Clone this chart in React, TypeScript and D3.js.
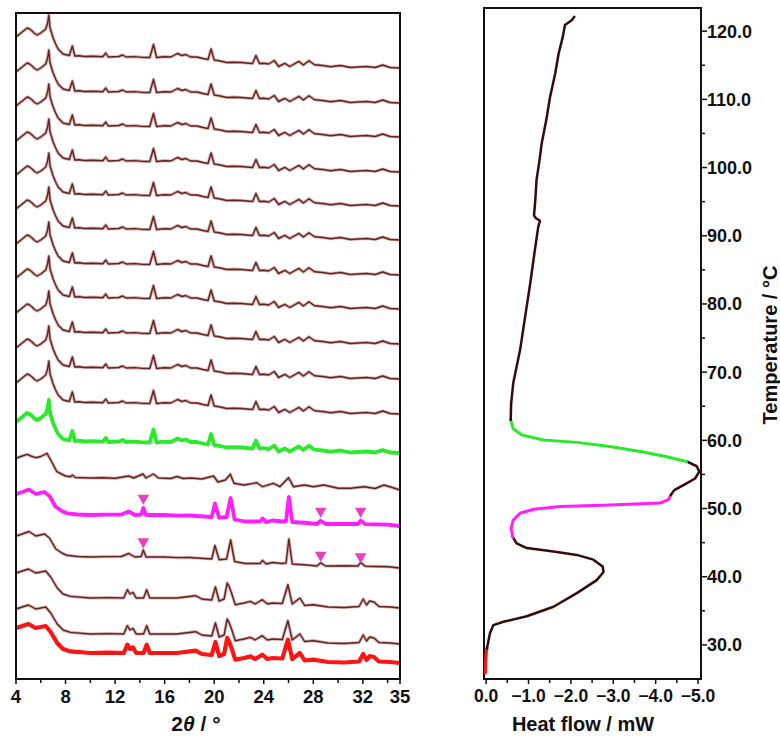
import React from 'react';
import * as d3 from 'd3';

// XRD patterns: [2theta, height above the trace's right-end baseline]
const PATTERN_A: [number, number][] = [
  [4.0, 31], [4.3, 34], [4.5, 36], [4.9, 40], [5.1, 39], [5.3, 37], [5.5, 34.5], [5.7, 33], [6.0, 35],
  [6.2, 37], [6.4, 39], [6.55, 45], [6.65, 53], [6.75, 40], [7.0, 30], [7.2, 24], [7.4, 19], [7.8, 14],
  [8.3, 12.5], [8.55, 22], [8.75, 12], [9.1, 12.3], [9.5, 11.5], [10.2, 11.8], [11.0, 11.3], [11.25, 15],
  [11.45, 11], [12.3, 11.5], [12.6, 13], [12.9, 11], [13.6, 11.4], [14.2, 10.6], [14.8, 10.5], [15.1, 23.5],
  [15.35, 10.5], [16.0, 11.3], [16.5, 11], [17.05, 14.5], [17.4, 12.5], [17.7, 13.5], [18.1, 11],
  [18.6, 11], [19.1, 9.5], [19.5, 8.5], [19.75, 19], [20.0, 8], [20.5, 7], [21.0, 5.5], [21.6, 5.8],
  [22.2, 5.5], [22.6, 5], [23.1, 4.5], [23.37, 12.5], [23.65, 4.5], [24.0, 4.8], [24.4, 4], [24.85, 7.5],
  [25.2, 1.5], [25.7, 4.6], [26.1, 1.5], [26.84, 6.6], [27.2, 3], [27.65, 7.3], [28.1, 3.3], [28.75, 2.5],
  [29.4, 1.3], [30.2, 2.5], [31.0, 0.5], [31.6, 1], [32.3, 1.5], [33.0, 0.5], [33.6, 3], [34.2, 0.5],
  [35.0, 0]
];

const PATTERN_B: [number, number][] = [
  [4.0, 31.7], [4.5, 34], [4.9, 35.7], [5.2, 34], [5.6, 32.3], [6.0, 33.5], [6.5, 36.7], [6.8, 30],
  [7.3, 18.3], [8.0, 14], [8.4, 13.3], [8.55, 15], [8.8, 12.5], [10.0, 12], [11.0, 12.3], [12.0, 11.7],
  [13.1, 14], [13.5, 12], [14.25, 16], [14.5, 12], [15.1, 16], [15.5, 12], [16.5, 11.5], [17.0, 13.5],
  [17.5, 11.5], [18.1, 12], [19.0, 11], [19.95, 14], [20.3, 8], [20.9, 10], [21.3, 15.7], [21.6, 6.7],
  [22.4, 5], [23.45, 7.3], [23.9, 3.3], [24.8, 6.7], [25.3, 3.3], [26.0, 12.3], [26.4, 3.3], [27.3, 5],
  [28.0, 3.3], [28.86, 5], [30.0, 1.7], [31.0, 1.7], [32.1, 3.3], [33.0, 1.5], [33.7, 5], [34.5, 2],
  [35.0, 0]
];

const PATTERN_C: [number, number][] = [
  [4.0, 32], [4.5, 34], [5.05, 36.5], [5.6, 32], [6.3, 34], [6.7, 30], [7.2, 19.3], [7.7, 15], [8.1, 12.7],
  [9.0, 11.5], [10.0, 11], [11.2, 11.4], [12.5, 11.5], [13.1, 14.5], [13.6, 11], [14.1, 11.5], [14.28, 18],
  [14.5, 11], [16.0, 11], [17.0, 10.4], [18.0, 10.5], [19.8, 9], [20.06, 22.5], [20.4, 8.3], [21.0, 9],
  [21.33, 28], [21.65, 6.5], [22.5, 4.5], [23.7, 4.5], [23.9, 7.5], [24.2, 4], [24.7, 5.5], [25.5, 4.5],
  [25.8, 5], [26.03, 29], [26.3, 4], [27.5, 3], [28.3, 2], [28.6, 5.2], [29.0, 2], [30.5, 2.2], [31.6, 2],
  [31.82, 5.4], [32.2, 1.8], [34.0, 1.3], [35.0, 0]
];

const PATTERN_D: [number, number][] = [
  [4.0, 35], [4.5, 37], [5.0, 39], [5.6, 35], [6.4, 37], [6.8, 31], [7.33, 20], [7.8, 14], [8.4, 11.6],
  [10.0, 10], [11.5, 10.4], [12.7, 10], [12.99, 18.3], [13.2, 14], [13.45, 15.6], [13.7, 10], [14.3, 10],
  [14.55, 18.3], [14.8, 10], [17.0, 10], [18.5, 12.3], [19.0, 9], [19.8, 8], [20.1, 21], [20.4, 7],
  [20.8, 9], [21.05, 25], [21.2, 21.6], [21.4, 15], [21.7, 3.3], [22.4, 5], [22.94, 6.6], [23.3, 4],
  [23.88, 8.3], [24.3, 4], [24.7, 5], [25.5, 4.5], [25.95, 23.3], [26.3, 4], [26.92, 10], [27.3, 2.5],
  [28.0, 3.3], [29.2, 1], [30.5, 0.5], [31.7, 1.5], [32.03, 9], [32.3, 3], [32.55, 7], [32.9, 6], [33.3, 1.5],
  [34.2, 1], [35.0, 0]
];

const PATTERNS: Record<string, [number, number][]> = { A: PATTERN_A, B: PATTERN_B, C: PATTERN_C, D: PATTERN_D };

// stacked traces from top to bottom
const TRACE_PATTERN = ['A', 'A', 'A', 'A', 'A', 'A', 'A', 'A', 'A', 'A', 'A', 'A', 'B', 'C', 'C', 'D', 'D', 'D'];
const TRACE_OFFSET = [611, 576, 542, 507, 473, 439, 404, 370, 335, 300, 265, 226, 189, 153, 111, 71, 35, 16];
const TRACE_KIND = ['plain', 'plain', 'plain', 'plain', 'plain', 'plain', 'plain', 'plain', 'plain', 'plain',
  'plain', 'green', 'plain', 'magenta', 'plain', 'plain', 'plain', 'red'];

// triangle markers: trace index, 2theta, height above trace baseline
const MARKER_TRACE = [13, 13, 13, 14, 14, 14];
const MARKER_TT = [14.28, 28.6, 31.82, 14.28, 28.6, 31.82];
const MARKER_H = [28, 15, 15, 26.3, 12.8, 11.3];

const XRD_MAJOR = [4, 8, 12, 16, 20, 24, 28, 32, 35];
const XRD_MINOR = [6, 10, 14, 18, 22, 26, 30, 34];

// DSC curve pieces: [heat flow mW, temperature C]
const DSC_RED: [number, number][] = [[0.02, 25.9], [0.01, 27.5], [0.0, 28.8], [-0.02, 29.5]];
const DSC_BROWN_LOW: [number, number][] = [
  [-0.02, 29.5], [-0.03, 29.8], [-0.09, 31.7], [-0.17, 32.9], [-0.41, 33.4], [-0.96, 34.2], [-1.59, 35.6],
  [-2.14, 37.6], [-2.61, 39.5], [-2.77, 40.7], [-2.75, 41.5], [-2.53, 42.5], [-2.14, 43.2], [-1.59, 43.7],
  [-0.96, 44.2], [-0.72, 44.9], [-0.63, 45.8]
];
const DSC_MAGENTA: [number, number][] = [
  [-0.63, 45.8], [-0.59, 47.1], [-0.64, 48.3], [-0.8, 49.3], [-1.12, 49.9], [-1.75, 50.3], [-2.92, 50.5],
  [-4.1, 50.8], [-4.3, 51.3], [-4.36, 52.0]
];
const DSC_BROWN_MID: [number, number][] = [
  [-4.36, 52.0], [-4.44, 52.7], [-4.73, 53.7], [-4.93, 54.4], [-5.03, 55.4], [-4.97, 56.2], [-4.73, 56.9]
];
const DSC_GREEN: [number, number][] = [
  [-4.73, 56.9], [-4.26, 57.6], [-3.71, 58.3], [-2.92, 59.1], [-2.14, 59.7], [-1.35, 60.05], [-0.84, 60.8],
  [-0.64, 61.7], [-0.58, 63.0]
];
const DSC_BROWN_HIGH: [number, number][] = [
  [-0.58, 63.0], [-0.59, 65.4], [-0.64, 68.4], [-0.8, 73.2], [-0.92, 78.1], [-1.04, 83.0], [-1.15, 87.9],
  [-1.23, 91.3], [-1.27, 92.2], [-1.17, 92.6], [-1.13, 93.0], [-1.16, 95.2], [-1.19, 98.2], [-1.26, 101.1],
  [-1.31, 103.5], [-1.42, 107.0], [-1.51, 110.4], [-1.63, 113.8], [-1.71, 116.7], [-1.81, 119.2],
  [-1.86, 120.9], [-2.02, 121.6], [-2.08, 122.1]
];

const HF_MAJOR = [0, -1, -2, -3, -4, -5];
const HF_MINOR = [-0.5, -1.5, -2.5, -3.5, -4.5];
const T_MAJOR = [30, 40, 50, 60, 70, 80, 90, 100, 110, 120];
const T_MINOR = [35, 45, 55, 65, 75, 85, 95, 105, 115];

const FONT = '"Liberation Sans", Arial, sans-serif';
const BROWN = '#642222';
const HALO = '#d6afaf';
const KIND_STYLE: Record<string, { color: string; width: number }> = {
  green: { color: '#2bea2b', width: 3.8 },
  magenta: { color: '#ff1eff', width: 3.8 },
  red: { color: '#ff1414', width: 4.2 },
};

export default function App() {
  const L = { left: 16, right: 400, top: 13, bottom: 679 };
  const R = { left: 484, right: 701, top: 8, bottom: 679 };

  const x = d3.scaleLinear().domain([4, 35]).range([L.left, L.right]);
  const y = d3.scaleLinear().domain([0, 666]).range([L.bottom, L.top]);

  const hx = d3.scaleLinear().domain([0.05, -5.07]).range([R.left, R.right]);
  const ty = d3.scaleLinear().domain([25, 123.4]).range([R.bottom, R.top]);

  const fmt1 = d3.format('.1f');

  const dscLine = d3.line<[number, number]>().x(d => hx(d[0])).y(d => ty(d[1]));

  const dscPieces = [
    { data: DSC_RED, color: '#ff1414', width: 3.2 },
    { data: DSC_BROWN_LOW, color: '#360a0a', width: 2.5 },
    { data: DSC_MAGENTA, color: '#ff1eff', width: 3 },
    { data: DSC_BROWN_MID, color: '#360a0a', width: 2.5 },
    { data: DSC_GREEN, color: '#2bea2b', width: 3 },
    { data: DSC_BROWN_HIGH, color: '#360a0a', width: 2.5 },
  ];

  const tri = d3.symbol().type(d3.symbolTriangle).size(58)();

  return (
    <svg width={780} height={737} style={{ position: 'absolute', left: 0, top: 0, background: '#fff' }}
      fontFamily={FONT}>
      <defs>
        <clipPath id="xrdClip">
          <rect x={L.left} y={L.top} width={L.right - L.left} height={L.bottom - L.top} />
        </clipPath>
      </defs>

      {/* XRD stack */}
      <g clipPath="url(#xrdClip)">
        {TRACE_PATTERN.map((p, i) => {
          const off = TRACE_OFFSET[i];
          const line = d3.line<[number, number]>().x(d => x(d[0])).y(d => y(d[1] + off));
          const path = line(PATTERNS[p]) || '';
          const kind = TRACE_KIND[i];
          if (kind === 'plain') {
            return (
              <g key={i}>
                <path d={path} fill="none" stroke={HALO} strokeWidth={3.2} strokeLinejoin="round" />
                <path d={path} fill="none" stroke={BROWN} strokeWidth={1.4} strokeLinejoin="round" />
              </g>
            );
          }
          const st = KIND_STYLE[kind];
          return <path key={i} d={path} fill="none" stroke={st.color} strokeWidth={st.width} strokeLinejoin="round" />;
        })}
        {MARKER_TRACE.map((t, i) => (
          <path key={'m' + i} d={tri || ''} fill="#ea3fbf"
            transform={`translate(${x(MARKER_TT[i])},${y(TRACE_OFFSET[t] + MARKER_H[i])}) rotate(180)`} />
        ))}
      </g>
      <rect x={L.left} y={L.top} width={L.right - L.left} height={L.bottom - L.top} fill="none" stroke="#111" strokeWidth={2} />
      {XRD_MINOR.map(v => (
        <line key={'xm' + v} x1={x(v)} x2={x(v)} y1={L.bottom} y2={L.bottom + 4} stroke="#111" strokeWidth={1.5} />
      ))}
      {XRD_MAJOR.map(v => (
        <g key={'xM' + v}>
          <line x1={x(v)} x2={x(v)} y1={L.bottom} y2={L.bottom + 5} stroke="#111" strokeWidth={1.5} />
          <text x={x(v)} y={703} textAnchor="middle" fontSize={18.5} fontWeight="bold" fill="#111">{v}</text>
        </g>
      ))}
      <text x={196} y={731} textAnchor="middle" fontSize={21} fontWeight="bold" fill="#111">
        2<tspan fontStyle="italic">θ</tspan> / °
      </text>

      {/* DSC */}
      <rect x={R.left} y={R.top} width={R.right - R.left} height={R.bottom - R.top} fill="none" stroke="#111" strokeWidth={2} />
      {dscPieces.map((s, i) => (
        <path key={'d' + i} d={dscLine(s.data) || ''} fill="none" stroke={s.color} strokeWidth={s.width}
          strokeLinejoin="round" strokeLinecap="round" />
      ))}
      {HF_MINOR.map(v => (
        <line key={'hm' + v} x1={hx(v)} x2={hx(v)} y1={R.bottom} y2={R.bottom + 4} stroke="#111" strokeWidth={1.5} />
      ))}
      {HF_MAJOR.map(v => (
        <g key={'hM' + v}>
          <line x1={hx(v)} x2={hx(v)} y1={R.bottom} y2={R.bottom + 5} stroke="#111" strokeWidth={1.5} />
          <text x={hx(v)} y={702} textAnchor="middle" fontSize={17.5} fontWeight="bold" fill="#111">{fmt1(v)}</text>
        </g>
      ))}
      <text x={583} y={731} textAnchor="middle" fontSize={20} fontWeight="bold" fill="#111">Heat flow / mW</text>
      {T_MINOR.map(v => (
        <line key={'tm' + v} x1={R.right} x2={R.right + 4} y1={ty(v)} y2={ty(v)} stroke="#111" strokeWidth={1.5} />
      ))}
      {T_MAJOR.map(v => (
        <g key={'tM' + v}>
          <line x1={R.right} x2={R.right + 6} y1={ty(v)} y2={ty(v)} stroke="#111" strokeWidth={1.5} />
          <text x={707} y={ty(v)} dy="0.36em" textAnchor="start" fontSize={18} fontWeight="bold" fill="#111">{fmt1(v)}</text>
        </g>
      ))}
      <text transform="translate(777,345) rotate(-90)" textAnchor="middle" fontSize={20} fontWeight="bold" fill="#111">
        Temperature / °C
      </text>
    </svg>
  );
}
